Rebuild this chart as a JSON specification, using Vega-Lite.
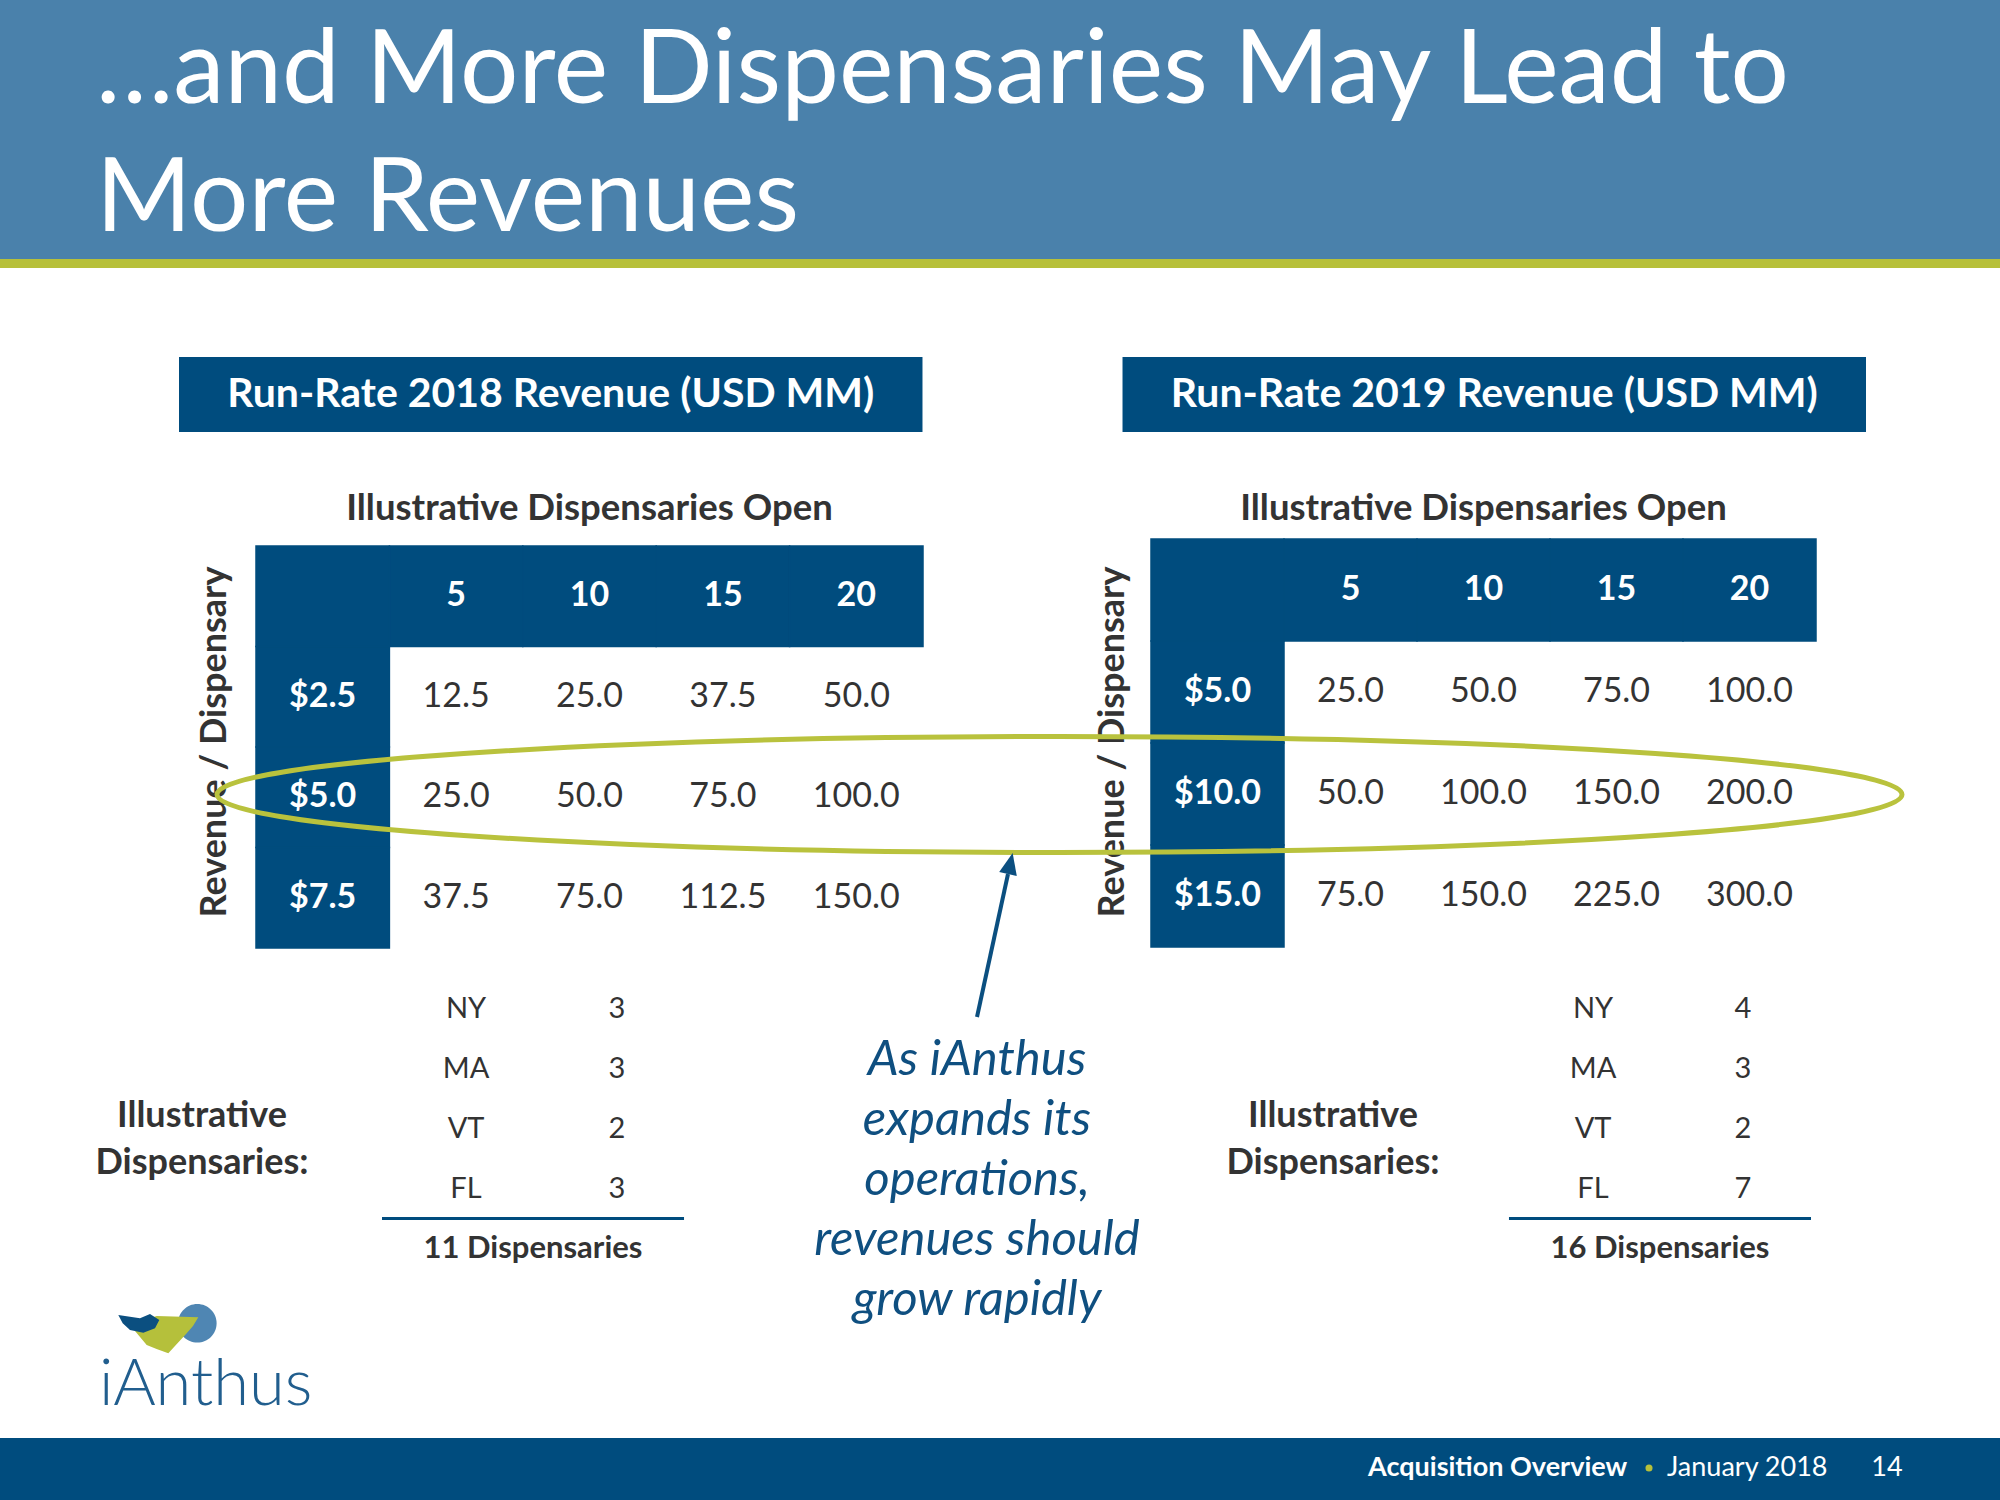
{
  "$schema": "https://vega.github.io/schema/vega-lite/v6.json",
  "width": 2000,
  "height": 1500,
  "autosize": {"type": "fit", "contains": "padding"},
  "padding": 0,
  "background": "#FFFFFF",
  "config": {"view": {"stroke": null}, "font": "Lato"},
  "datasets": {
    "title": [
      {"line": 1, "text": "…and More Dispensaries May Lead to"},
      {"line": 2, "text": "More Revenues"}
    ],
    "panels": [
      {"year": 2018, "title": "Run-Rate 2018 Revenue (USD MM)", "caption": "Illustrative Dispensaries Open", "axisTitle": "Revenue / Dispensary", "total": "11 Dispensaries"},
      {"year": 2019, "title": "Run-Rate 2019 Revenue (USD MM)", "caption": "Illustrative Dispensaries Open", "axisTitle": "Revenue / Dispensary", "total": "16 Dispensaries"}
    ],
    "cells": [
      {"year": 2018, "perDisp": 2.5, "open": 5, "revenue": 12.5},
      {"year": 2018, "perDisp": 2.5, "open": 10, "revenue": 25},
      {"year": 2018, "perDisp": 2.5, "open": 15, "revenue": 37.5},
      {"year": 2018, "perDisp": 2.5, "open": 20, "revenue": 50},
      {"year": 2018, "perDisp": 5, "open": 5, "revenue": 25},
      {"year": 2018, "perDisp": 5, "open": 10, "revenue": 50},
      {"year": 2018, "perDisp": 5, "open": 15, "revenue": 75},
      {"year": 2018, "perDisp": 5, "open": 20, "revenue": 100},
      {"year": 2018, "perDisp": 7.5, "open": 5, "revenue": 37.5},
      {"year": 2018, "perDisp": 7.5, "open": 10, "revenue": 75},
      {"year": 2018, "perDisp": 7.5, "open": 15, "revenue": 112.5},
      {"year": 2018, "perDisp": 7.5, "open": 20, "revenue": 150},
      {"year": 2019, "perDisp": 5, "open": 5, "revenue": 25},
      {"year": 2019, "perDisp": 5, "open": 10, "revenue": 50},
      {"year": 2019, "perDisp": 5, "open": 15, "revenue": 75},
      {"year": 2019, "perDisp": 5, "open": 20, "revenue": 100},
      {"year": 2019, "perDisp": 10, "open": 5, "revenue": 50},
      {"year": 2019, "perDisp": 10, "open": 10, "revenue": 100},
      {"year": 2019, "perDisp": 10, "open": 15, "revenue": 150},
      {"year": 2019, "perDisp": 10, "open": 20, "revenue": 200},
      {"year": 2019, "perDisp": 15, "open": 5, "revenue": 75},
      {"year": 2019, "perDisp": 15, "open": 10, "revenue": 150},
      {"year": 2019, "perDisp": 15, "open": 15, "revenue": 225},
      {"year": 2019, "perDisp": 15, "open": 20, "revenue": 300}
    ],
    "states": [
      {"year": 2018, "state": "NY", "count": 3},
      {"year": 2018, "state": "MA", "count": 3},
      {"year": 2018, "state": "VT", "count": 2},
      {"year": 2018, "state": "FL", "count": 3},
      {"year": 2019, "state": "NY", "count": 4},
      {"year": 2019, "state": "MA", "count": 3},
      {"year": 2019, "state": "VT", "count": 2},
      {"year": 2019, "state": "FL", "count": 7}
    ],
    "sideLabel": [
      {"year": 2018, "line": 1, "text": "Illustrative"},
      {"year": 2018, "line": 2, "text": "Dispensaries:"},
      {"year": 2019, "line": 1, "text": "Illustrative"},
      {"year": 2019, "line": 2, "text": "Dispensaries:"}
    ],
    "note": [
      {"line": 1, "text": "As iAnthus"},
      {"line": 2, "text": "expands its"},
      {"line": 3, "text": "operations,"},
      {"line": 4, "text": "revenues should"},
      {"line": 5, "text": "grow rapidly"}
    ],
    "footer": [{"section": "Acquisition Overview", "date": "January 2018", "page": 14}],
    "logo": [{"part": "circle"}, {"part": "leaf"}, {"part": "petal"}]
  },
  "resolve": {"scale": {"x": "independent", "y": "independent", "color": "independent", "shape": "independent"}},
  "layer": [
    {
      "data": {"values": [{"part": "header"}]},
      "mark": {"type": "rect", "color": "#4A81AB"},
      "encoding": {"y": {"field": "part", "type": "nominal", "scale": {"type": "band", "domain": ["header"], "range": [0, 259], "paddingInner": 0, "paddingOuter": 0}, "axis": null}}
    },
    {
      "data": {"values": [{"part": "stripe"}]},
      "mark": {"type": "rect", "color": "#B7C03A"},
      "encoding": {"y": {"field": "part", "type": "nominal", "scale": {"type": "band", "domain": ["stripe"], "range": [259, 268], "paddingInner": 0, "paddingOuter": 0}, "axis": null}}
    },
    {
      "data": {"values": [{"part": "footer"}]},
      "mark": {"type": "rect", "color": "#004C7E"},
      "encoding": {"y": {"field": "part", "type": "nominal", "scale": {"type": "band", "domain": ["footer"], "range": [1438, 1500], "paddingInner": 0, "paddingOuter": 0}, "axis": null}}
    },
    {
      "data": {"name": "title"},
      "mark": {"type": "text", "align": "left", "baseline": "alphabetic", "fontSize": 103, "color": "#FFFFFF"},
      "encoding": {
        "x": {"datum": "title", "type": "nominal", "scale": {"type": "point", "domain": ["title"], "range": [96, 96], "padding": 0}, "axis": null},
        "y": {"field": "line", "type": "ordinal", "scale": {"type": "point", "domain": [1, 2], "range": [103, 231], "padding": 0}, "axis": null},
        "text": {"field": "text"}
      }
    },
    {
      "data": {"name": "panels"},
      "encoding": {
        "x": {"field": "year", "type": "nominal", "scale": {"type": "band", "domain": [2018, 2019], "range": [179, 1866], "paddingInner": 0.212, "paddingOuter": 0}, "axis": null},
        "y": {"datum": "box", "type": "nominal", "scale": {"type": "band", "domain": ["box"], "range": [357, 432], "paddingInner": 0, "paddingOuter": 0}, "axis": null}
      },
      "layer": [
        {"mark": {"type": "rect", "color": "#004C7E"}},
        {"mark": {"type": "text", "fontWeight": "bold", "fontSize": 41, "color": "#FFFFFF", "baseline": "middle"}, "encoding": {"text": {"field": "title"}}}
      ]
    },
    {
      "data": {"name": "panels"},
      "mark": {"type": "text", "fontWeight": "bold", "fontSize": 36.5, "color": "#333333", "baseline": "middle"},
      "encoding": {
        "x": {"field": "year", "type": "nominal", "scale": {"type": "point", "domain": [2018, 2019], "range": [589.5, 1483.5], "padding": 0}, "axis": null},
        "y": {"datum": "caption", "type": "nominal", "scale": {"type": "point", "domain": ["caption"], "range": [509, 509], "padding": 0}, "axis": null},
        "text": {"field": "caption"}
      }
    },
    {
      "data": {"name": "panels"},
      "mark": {"type": "text", "fontWeight": "bold", "fontSize": 36, "color": "#333333", "baseline": "middle", "angle": 270},
      "encoding": {
        "x": {"field": "year", "type": "nominal", "scale": {"type": "point", "domain": [2018, 2019], "range": [215, 1113], "padding": 0}, "axis": null},
        "y": {"datum": "axis", "type": "nominal", "scale": {"type": "point", "domain": ["axis"], "range": [742, 742], "padding": 0}, "axis": null},
        "text": {"field": "axisTitle"}
      }
    },
    {
      "data": {"name": "cells"},
      "transform": [{"filter": "datum.year == 2018"}],
      "encoding": {
        "x": {"field": "open", "type": "ordinal", "scale": {"type": "band", "domain": ["label", 5, 10, 15, 20], "range": [256, 923], "paddingInner": 0, "paddingOuter": 0}, "axis": null},
        "y": {"field": "perDisp", "type": "ordinal", "scale": {"type": "band", "domain": ["head", 2.5, 5, 7.5], "range": [546, 948], "paddingInner": 0, "paddingOuter": 0}, "axis": null}
      },
      "layer": [
        {
          "transform": [{"aggregate": [{"op": "count", "as": "n"}], "groupby": ["open"]}],
          "layer": [
            {"mark": {"type": "rect", "color": "#004C7E", "stroke": "#004C7E", "strokeWidth": 1.5}, "encoding": {"y": {"datum": "head", "type": "ordinal"}}},
            {"mark": {"type": "text", "fontWeight": "bold", "fontSize": 34, "color": "#FFFFFF", "baseline": "middle"}, "encoding": {"y": {"datum": "head", "type": "ordinal"}, "text": {"field": "open", "type": "quantitative", "format": "d"}}}
          ]
        },
        {
          "transform": [{"aggregate": [{"op": "count", "as": "n"}], "groupby": ["perDisp"]}],
          "layer": [
            {"mark": {"type": "rect", "color": "#004C7E", "stroke": "#004C7E", "strokeWidth": 1.5}, "encoding": {"x": {"datum": "label", "type": "ordinal"}}},
            {"mark": {"type": "text", "fontWeight": "bold", "fontSize": 34, "color": "#FFFFFF", "baseline": "middle"}, "encoding": {"x": {"datum": "label", "type": "ordinal"}, "text": {"field": "perDisp", "type": "quantitative", "format": "$.1f"}}}
          ]
        },
        {
          "transform": [{"aggregate": [{"op": "count", "as": "n"}]}],
          "mark": {"type": "rect", "color": "#004C7E", "stroke": "#004C7E", "strokeWidth": 1.5},
          "encoding": {"x": {"datum": "label", "type": "ordinal"}, "y": {"datum": "head", "type": "ordinal"}}
        },
        {
          "mark": {"type": "text", "fontSize": 34, "color": "#333333", "baseline": "middle"},
          "encoding": {"text": {"field": "revenue", "type": "quantitative", "format": ".1f"}}
        }
      ]
    },
    {
      "data": {"name": "cells"},
      "transform": [{"filter": "datum.year == 2019"}],
      "encoding": {
        "x": {"field": "open", "type": "ordinal", "scale": {"type": "band", "domain": ["label", 5, 10, 15, 20], "range": [1151, 1816], "paddingInner": 0, "paddingOuter": 0}, "axis": null},
        "y": {"field": "perDisp", "type": "ordinal", "scale": {"type": "band", "domain": ["head", 5, 10, 15], "range": [539, 947], "paddingInner": 0, "paddingOuter": 0}, "axis": null}
      },
      "layer": [
        {
          "transform": [{"aggregate": [{"op": "count", "as": "n"}], "groupby": ["open"]}],
          "layer": [
            {"mark": {"type": "rect", "color": "#004C7E", "stroke": "#004C7E", "strokeWidth": 1.5}, "encoding": {"y": {"datum": "head", "type": "ordinal"}}},
            {"mark": {"type": "text", "fontWeight": "bold", "fontSize": 34, "color": "#FFFFFF", "baseline": "middle"}, "encoding": {"y": {"datum": "head", "type": "ordinal"}, "text": {"field": "open", "type": "quantitative", "format": "d"}}}
          ]
        },
        {
          "transform": [{"aggregate": [{"op": "count", "as": "n"}], "groupby": ["perDisp"]}],
          "layer": [
            {"mark": {"type": "rect", "color": "#004C7E", "stroke": "#004C7E", "strokeWidth": 1.5}, "encoding": {"x": {"datum": "label", "type": "ordinal"}}},
            {"mark": {"type": "text", "fontWeight": "bold", "fontSize": 34, "color": "#FFFFFF", "baseline": "middle"}, "encoding": {"x": {"datum": "label", "type": "ordinal"}, "text": {"field": "perDisp", "type": "quantitative", "format": "$.1f"}}}
          ]
        },
        {
          "transform": [{"aggregate": [{"op": "count", "as": "n"}]}],
          "mark": {"type": "rect", "color": "#004C7E", "stroke": "#004C7E", "strokeWidth": 1.5},
          "encoding": {"x": {"datum": "label", "type": "ordinal"}, "y": {"datum": "head", "type": "ordinal"}}
        },
        {
          "mark": {"type": "text", "fontSize": 34, "color": "#333333", "baseline": "middle"},
          "encoding": {"text": {"field": "revenue", "type": "quantitative", "format": ".1f"}}
        }
      ]
    },
    {
      "data": {"name": "states"},
      "transform": [{"filter": "datum.year == 2018"}],
      "encoding": {
        "x": {"datum": "state", "type": "nominal", "scale": {"type": "point", "domain": ["state", "count"], "range": [466, 617], "padding": 0}, "axis": null},
        "y": {"field": "state", "type": "nominal", "scale": {"type": "point", "domain": ["NY", "MA", "VT", "FL"], "range": [1009, 1189], "padding": 0}, "axis": null}
      },
      "layer": [
        {"mark": {"type": "text", "fontSize": 29, "color": "#333333", "baseline": "middle"}, "encoding": {"text": {"field": "state"}}},
        {"mark": {"type": "text", "fontSize": 29, "color": "#333333", "baseline": "middle"}, "encoding": {"x": {"datum": "count", "type": "nominal"}, "text": {"field": "count", "type": "quantitative"}}}
      ]
    },
    {
      "data": {"name": "states"},
      "transform": [{"filter": "datum.year == 2019"}],
      "encoding": {
        "x": {"datum": "state", "type": "nominal", "scale": {"type": "point", "domain": ["state", "count"], "range": [1593, 1743], "padding": 0}, "axis": null},
        "y": {"field": "state", "type": "nominal", "scale": {"type": "point", "domain": ["NY", "MA", "VT", "FL"], "range": [1009, 1189], "padding": 0}, "axis": null}
      },
      "layer": [
        {"mark": {"type": "text", "fontSize": 29, "color": "#333333", "baseline": "middle"}, "encoding": {"text": {"field": "state"}}},
        {"mark": {"type": "text", "fontSize": 29, "color": "#333333", "baseline": "middle"}, "encoding": {"x": {"datum": "count", "type": "nominal"}, "text": {"field": "count", "type": "quantitative"}}}
      ]
    },
    {
      "data": {"name": "panels"},
      "encoding": {
        "x": {"field": "year", "type": "nominal", "scale": {"type": "band", "domain": [2018, 2019], "range": [382, 1811], "paddingInner": 0.732, "paddingOuter": 0}, "axis": null}
      },
      "resolve": {"scale": {"y": "independent"}},
      "layer": [
        {
          "mark": {"type": "rect", "color": "#004C7E"},
          "encoding": {"y": {"datum": "rule", "type": "nominal", "scale": {"type": "band", "domain": ["rule"], "range": [1217, 1220], "paddingInner": 0, "paddingOuter": 0}, "axis": null}}
        },
        {
          "mark": {"type": "text", "fontWeight": "bold", "fontSize": 31, "color": "#333333", "baseline": "middle"},
          "encoding": {
            "y": {"datum": "total", "type": "nominal", "scale": {"type": "point", "domain": ["total"], "range": [1249, 1249], "padding": 0}, "axis": null},
            "text": {"field": "total"}
          }
        }
      ]
    },
    {
      "data": {"name": "sideLabel"},
      "mark": {"type": "text", "fontWeight": "bold", "fontSize": 36, "color": "#333333", "baseline": "middle"},
      "encoding": {
        "x": {"field": "year", "type": "nominal", "scale": {"type": "point", "domain": [2018, 2019], "range": [202, 1333], "padding": 0}, "axis": null},
        "y": {"field": "line", "type": "ordinal", "scale": {"type": "point", "domain": [1, 2], "range": [1116, 1163], "padding": 0}, "axis": null},
        "text": {"field": "text"}
      }
    },
    {
      "data": {"name": "note"},
      "mark": {"type": "text", "fontStyle": "italic", "fontSize": 49, "color": "#0F4F80", "baseline": "middle"},
      "encoding": {
        "x": {"datum": "note", "type": "nominal", "scale": {"type": "point", "domain": ["note"], "range": [977, 977], "padding": 0}, "axis": null},
        "y": {"field": "line", "type": "ordinal", "scale": {"type": "point", "domain": [1, 2, 3, 4, 5], "range": [1060, 1300], "padding": 0}, "axis": null},
        "text": {"field": "text"}
      }
    },
    {
      "data": {"values": [{"part": "ring"}]},
      "mark": {"type": "point", "shape": "M-1,0A1,0.0688,0,1,0,1,0A1,0.0688,0,1,0,-1,0Z", "size": 2839225, "filled": false, "stroke": "#B9C23D", "strokeWidth": 5, "opacity": 1},
      "encoding": {
        "x": {"field": "part", "type": "nominal", "scale": {"type": "point", "domain": ["ring"], "range": [1059.5, 1059.5], "padding": 0}, "axis": null},
        "y": {"field": "part", "type": "nominal", "scale": {"type": "point", "domain": ["ring"], "range": [794.5, 794.5], "padding": 0}, "axis": null}
      }
    },
    {
      "data": {"values": [{"from": "tail", "to": "base"}]},
      "encoding": {
        "x": {"field": "from", "type": "nominal", "scale": {"type": "point", "domain": ["tail", "base"], "range": [977, 1008], "padding": 0}, "axis": null},
        "y": {"field": "from", "type": "nominal", "scale": {"type": "point", "domain": ["tail", "base"], "range": [1017, 874], "padding": 0}, "axis": null}
      },
      "layer": [
        {"mark": {"type": "rule", "color": "#0B4F80", "strokeWidth": 4}, "encoding": {"x2": {"field": "to"}, "y2": {"field": "to"}}},
        {"mark": {"type": "point", "shape": "M0,-1.2L-0.5,0L0.5,0Z", "size": 1296, "filled": true, "color": "#0B4F80", "opacity": 1, "angle": 12.4}, "encoding": {"x": {"field": "to", "type": "nominal"}, "y": {"field": "to", "type": "nominal"}}}
      ]
    },
    {
      "data": {"name": "logo"},
      "encoding": {
        "x": {"datum": "logo", "type": "nominal", "scale": {"type": "point", "domain": ["logo"], "range": [200, 200], "padding": 0}, "axis": null},
        "y": {"datum": "logo", "type": "nominal", "scale": {"type": "point", "domain": ["logo"], "range": [1350, 1350], "padding": 0}, "axis": null}
      },
      "layer": [
        {
          "mark": {"type": "point", "filled": true, "size": 400, "opacity": 1, "strokeWidth": 0},
          "encoding": {
            "shape": {"field": "part", "type": "nominal", "scale": {"domain": ["circle", "leaf", "petal"], "range": ["M-2.2,-2.67A1.93,1.93,0,1,0,1.66,-2.67A1.93,1.93,0,1,0,-2.2,-2.67Z", "M-7.0,-2.5L-4.33,-3.4L-0.17,-3.27Q-0.6,-2.4,-1.33,-1.67L-3.17,0.33Q-4.4,-0.1,-5.33,-0.5Z", "M-8.17,-3.5L-6.0,-3.17L-5.0,-3.6L-4.07,-3.0L-4.5,-2.17L-5.67,-1.73L-7.0,-2.0L-7.73,-2.67Z"]}, "legend": null},
            "color": {"field": "part", "type": "nominal", "scale": {"domain": ["circle", "leaf", "petal"], "range": ["#4F86B3", "#B5C03B", "#0B4F80"]}, "legend": null}
          }
        },
        {
          "data": {"values": [{"brand": "iAnthus"}]},
          "mark": {"type": "text", "align": "left", "baseline": "alphabetic", "fontSize": 65, "fontWeight": 300, "color": "#215E8E", "dx": -101, "dy": 55},
          "encoding": {"text": {"field": "brand"}}
        }
      ]
    },
    {
      "data": {"name": "footer"},
      "encoding": {
        "y": {"datum": "footer", "type": "nominal", "scale": {"type": "point", "domain": ["footer"], "range": [1468, 1468], "padding": 0}, "axis": null}
      },
      "resolve": {"scale": {"x": "independent"}},
      "layer": [
        {
          "mark": {"type": "text", "align": "left", "baseline": "middle", "fontWeight": "bold", "fontSize": 27, "color": "#FFFFFF"},
          "encoding": {"x": {"datum": "section", "type": "nominal", "scale": {"type": "point", "domain": ["section"], "range": [1368, 1368], "padding": 0}, "axis": null}, "text": {"field": "section"}}
        },
        {
          "mark": {"type": "point", "shape": "circle", "filled": true, "size": 50, "color": "#B7C03A", "opacity": 1},
          "encoding": {"x": {"datum": "bullet", "type": "nominal", "scale": {"type": "point", "domain": ["bullet"], "range": [1649, 1649], "padding": 0}, "axis": null}}
        },
        {
          "mark": {"type": "text", "align": "left", "baseline": "middle", "fontSize": 27, "color": "#FFFFFF"},
          "encoding": {"x": {"datum": "date", "type": "nominal", "scale": {"type": "point", "domain": ["date"], "range": [1667, 1667], "padding": 0}, "axis": null}, "text": {"field": "date"}}
        },
        {
          "mark": {"type": "text", "align": "center", "baseline": "middle", "fontSize": 27, "color": "#FFFFFF"},
          "encoding": {"x": {"datum": "page", "type": "nominal", "scale": {"type": "point", "domain": ["page"], "range": [1887, 1887], "padding": 0}, "axis": null}, "text": {"field": "page", "type": "quantitative"}}
        }
      ]
    }
  ]
}
